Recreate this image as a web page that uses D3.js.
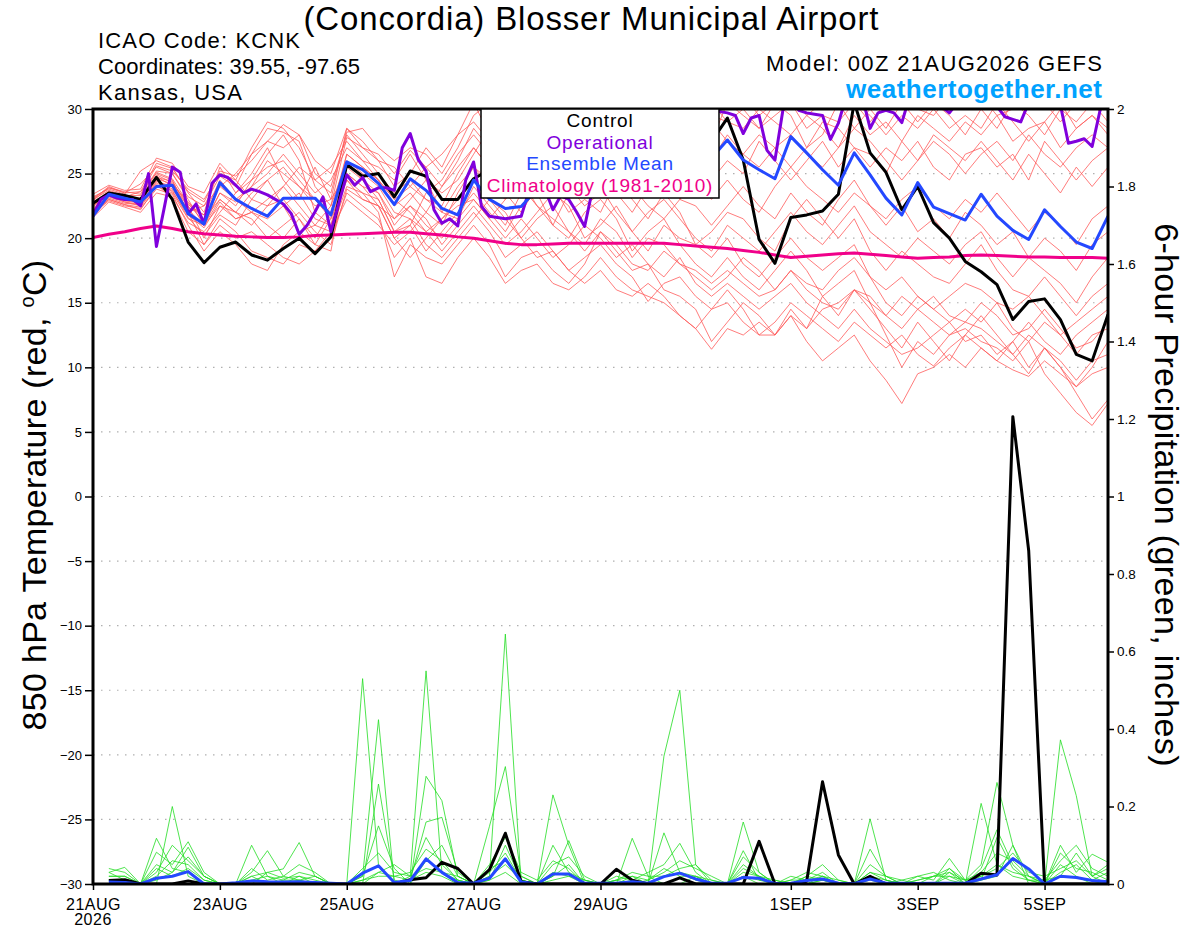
<!DOCTYPE html>
<html>
<head>
<meta charset="utf-8">
<script src="https://cdn.jsdelivr.net/npm/d3@7"></script>
<style>
  body { margin: 0; background: #fff; }
  svg { display: block; font-family: "Liberation Sans", Arial, Helvetica, sans-serif; }
</style>
</head>
<body>
<svg class="chart"></svg>
<script>

// run start and time axis
var runStart = Date.UTC( 2026, 7, 21, 0 );
var xTickHours = [0, 48, 96, 144, 192, 264, 312, 360];
var xTickLabels = ["21AUG", "23AUG", "25AUG", "27AUG", "29AUG", "1SEP", "3SEP", "5SEP"];
var yTempTicks = [-30, -25, -20, -15, -10, -5, 0, 5, 10, 15, 20, 25, 30];
var yPrecipTicks = [0, 0.2, 0.4, 0.6, 0.8, 1, 1.2, 1.4, 1.6, 1.8, 2];

// 6-hourly temperatures, 0h .. 384h
var controlTemp = [22.7,23.5,23.3,23.0,24.7,23.0,19.7,18.1, 19.3,19.7,18.7,18.3,19.2,20.0,18.8,20.1,
	25.7,24.8,25.0,23.2,25.2,24.8,23.0,23.0, 24.6,25.3,26.0,25.5,24.8,25.5,26.5,26.0,
	25.5,26.0,27.0,27.5,28.0,28.5,28.0,27.5, 29.3,26.05,19.9,18.05,21.6,21.8,22.1,23.4,
	30.5,26.6,25.1,22.2,24.0,21.2,20.0,18.2, 17.4,16.4,13.7,15.1,15.3,13.7,11.0,10.5, 14.1];

var meanTemp = [21.7,23.4,23.1,22.8,24.0,24.1,21.9,21.1, 24.3,23.0,22.3,21.7,23.1,23.1,23.1,21.8,
	25.9,25.3,24.25,22.6,24.6,23.7,22.3,21.8, 24.5,23.0,22.3,22.45,23.8,24.5,25.0,24.5,
	25.0,25.5,26.0,25.5,26.0,26.5,26.5,26.2, 27.6,26.05,25.3,24.6,27.86,26.6,25.3,24.1,
	26.6,24.9,23.1,21.8,24.3,22.4,21.9,21.4, 23.4,21.7,20.6,19.9,22.2,20.9,19.7,19.2, 21.7];

var climTemp = [20.05,20.3,20.5,20.75,20.95,20.75,20.5,20.35, 20.25,20.15,20.1,20.05,20.05,20.1,20.2,20.25,
	20.3,20.35,20.4,20.45,20.45,20.35,20.25,20.1, 20.0,19.8,19.6,19.5,19.5,19.55,19.6,19.6,
	19.6,19.6,19.6,19.6,19.6,19.5,19.4,19.3, 19.2,19.05,18.9,18.7,18.5,18.6,18.7,18.8,
	18.85,18.75,18.65,18.55,18.45,18.5,18.55,18.65, 18.7,18.65,18.6,18.55,18.55,18.5,18.5,18.5, 18.45];

// operational run is 3-hourly, 0h .. 384h
var operTemp = [21.8,23.0,23.35,23.1,23.0,23.0,22.5,25.0,19.35,22.4,
	25.5,25.1,21.9,22.65,21.1,24.25,24.9,24.7,24.1,23.5,
	23.8,23.6,23.35,23.0,22.65,21.9,20.3,21.0,22.05,23.2,
	20.5,22.7,24.9,24.1,24.7,23.6,23.9,23.9,23.7,27.0,
	28.1,26.1,25.2,22.2,21.15,21.5,20.95,24.5,25.9,22.45,
	21.7,21.6,21.5,21.6,21.7,23.7,24.5,23.8,22.2,23.3,
	23.0,22.0,20.9,23.8,25.5,26.5,27.0,26.0,27.5,28.5,
	27.5,28.0,29.0,28.0,29.5,28.5,29.0,30.5,30.0,29.8,
	29.7,29.5,28.1,29.3,29.5,26.8,26.05,29.9,31.0,29.9,
	29.7,29.6,29.5,27.65,28.9,31.0,31.5,31.0,28.5,29.7,
	29.9,29.7,28.95,31.0,31.5,31.5,31.0,30.2,29.7,30.5,
	31.0,31.5,31.5,31.0,30.2,29.4,29.2,29.0,30.5,31.0,
	31.5,31.0,30.3,27.35,27.5,27.7,27.1,29.9,31.0];

// ensemble members, 6-hourly
var memberTemps = [
	[22.8,23.6,23.2,23.6,25.0,24.5,22.0,22.5, 24.8,24.0,26.5,28.5,28.2,27.5,24.0,22.5, 27.8,27.0,26.5,25.0,26.8,25.5,24.0,26.0, 28.5,27.0,26.5,28.0,27.0,29.0,28.0,27.5, 29.5,28.0,29.0,27.5,28.5,29.5,28.5,30.5, 29.0,28.5,30.0,29.0,28.0,29.5,28.5,27.0, 29.5,28.0,29.0,27.5,29.5,28.5,27.5,29.0, 28.0,29.5,27.5,28.5,29.0,27.0,28.5,29.5, 28.0],
	[21.6,23.2,22.8,22.5,24.2,23.0,20.5,19.5, 21.5,20.5,19.0,18.5,18.0,19.5,19.0,20.5, 24.0,23.5,22.0,17.0,19.5,18.5,18.0,19.5, 21.0,19.5,17.0,18.5,19.0,17.5,16.5,18.0, 20.5,19.0,17.5,18.0,16.0,15.5,14.5,12.0, 13.5,15.0,14.0,12.5,14.5,13.0,15.5,14.0, 16.0,14.5,13.0,11.5,13.5,12.0,10.5,12.5, 14.0,12.5,11.0,9.5,11.5,10.0,8.0,6.0, 7.5],
	[23.0,24.0,23.5,24.2,25.5,25.0,23.0,21.0, 23.5,22.5,24.5,25.5,26.0,24.5,23.0,21.5, 26.5,25.5,24.5,22.5,23.5,22.0,21.0,23.5, 25.5,24.0,23.0,25.0,26.0,27.5,26.5,28.5, 27.0,25.5,24.0,26.5,27.0,25.0,23.5,24.5, 26.0,25.0,27.5,26.0,24.5,26.0,27.5,25.5, 27.0,26.5,25.0,27.5,26.0,28.0,27.0,26.0, 27.5,26.0,24.5,26.5,25.0,23.5,25.5,24.0, 25.5],
	[22.5,23.4,23.0,22.8,24.8,24.0,22.5,20.0, 22.5,21.5,22.0,21.0,20.0,21.5,19.5,19.0, 25.5,24.5,23.0,20.5,21.0,19.0,20.5,22.0, 23.5,22.0,20.5,22.5,23.5,21.0,20.0,22.0, 23.0,21.5,19.0,20.5,21.5,19.5,18.0,17.0, 18.5,17.0,16.0,17.5,19.0,17.5,15.5,16.5, 17.5,15.0,12.5,10.0,12.0,11.0,12.5,13.0, 12.0,11.5,10.5,12.0,9.5,8.0,6.5,5.5, 7.2],
	[23.2,23.8,23.4,25.2,26.0,25.5,23.5,22.0, 25.5,23.5,25.0,27.0,24.5,23.0,25.5,23.0, 28.5,27.5,26.0,24.0,25.0,27.0,25.5,28.0, 30.5,28.0,27.5,29.5,28.5,26.5,27.0,29.0, 28.0,26.0,27.5,29.0,28.0,30.0,29.0,27.5, 30.5,29.5,28.5,30.5,29.5,27.0,28.0,30.5, 28.5,30.0,28.5,30.5,29.0,30.5,29.5,28.0, 30.0,28.5,30.5,29.5,28.0,30.0,29.0,30.5, 29.0],
	[21.8,23.0,22.6,22.2,24.0,23.5,21.5,21.0, 23.0,22.0,21.0,22.5,23.0,21.5,20.0,22.0, 25.0,24.0,23.5,21.0,22.5,21.5,19.5,21.0, 22.5,21.0,19.5,20.5,22.0,23.5,22.5,20.0, 21.0,22.5,20.5,19.0,21.0,20.0,19.5,18.5, 20.0,18.0,17.0,18.5,20.0,18.5,17.5,18.5, 19.5,17.0,15.0,14.0,15.5,14.5,13.5,14.5, 13.5,15.0,13.0,12.0,13.5,12.5,11.0,12.5, 13.0],
	[22.2,23.3,22.9,22.7,24.5,23.8,22.0,19.5, 21.0,20.0,20.5,19.5,18.5,18.0,19.0,20.0, 23.5,22.5,21.5,18.5,20.0,17.0,16.5,18.5, 20.0,18.5,16.5,17.5,18.0,16.5,16.0,17.0, 18.5,17.0,16.0,15.5,15.0,14.0,13.0,11.4, 13.0,12.5,13.5,12.5,14.0,12.0,10.5,11.5, 12.5,10.5,9.0,7.2,9.5,10.0,11.0,10.0, 11.5,10.5,12.0,10.0,11.5,10.5,9.0,10.5, 11.0],
	[23.0,23.7,23.3,23.3,25.2,25.0,23.2,22.5, 24.0,25.0,26.5,27.5,27.0,28.0,25.0,24.0, 28.0,26.5,25.0,23.5,24.5,23.0,22.5,25.0, 27.0,25.5,24.5,26.5,24.5,23.5,25.5,24.0, 25.5,23.5,22.0,24.0,25.5,23.0,22.5,21.0, 22.5,24.0,22.5,21.5,23.5,22.0,21.0,23.0, 24.5,22.5,21.0,22.5,20.5,21.5,20.0,22.0, 21.0,19.5,20.5,18.5,20.0,19.0,17.5,19.5, 20.5],
	[22.4,23.5,23.1,22.9,24.6,24.2,22.8,21.5, 23.0,22.0,23.5,24.5,22.5,23.5,21.5,21.0, 26.0,25.0,24.0,22.0,21.5,20.5,19.0,20.5, 22.0,20.5,18.5,19.5,20.5,19.0,17.5,18.5, 19.5,18.0,17.0,15.1,16.5,17.0,15.5,14.5, 16.0,14.5,12.5,13.5,15.0,14.0,13.0,12.0, 13.5,12.5,11.5,12.5,11.0,10.1,11.5,12.5, 11.5,10.5,9.8,9.3,10.5,9.5,8.5,9.5, 10.0],
	[21.6,22.8,22.4,22.0,23.5,23.2,21.2,20.5, 22.0,23.5,24.5,26.5,28.0,26.0,22.0,21.0, 24.5,23.0,22.5,20.0,21.0,23.5,24.5,26.5, 28.0,26.5,25.0,24.0,22.5,21.0,23.5,25.5, 24.0,22.0,20.5,22.0,23.0,21.5,20.0,19.0, 21.0,20.0,19.0,20.5,22.0,20.5,19.5,21.0, 22.5,20.5,19.5,18.5,20.0,19.0,18.0,19.5, 20.5,18.5,17.0,18.5,17.5,16.5,15.0,17.0, 18.5],
	[22.9,23.9,23.6,23.4,25.6,25.2,23.8,23.0, 25.0,24.5,23.0,22.5,24.0,25.5,24.5,25.5, 27.5,26.0,25.5,24.5,26.5,24.5,23.5,24.5, 26.5,28.5,27.0,26.0,28.0,27.5,29.5,28.0, 26.5,27.5,28.5,27.0,26.0,27.5,28.0,29.0, 27.5,26.5,28.0,27.0,25.5,27.0,29.0,28.5, 27.0,25.5,27.0,26.0,27.5,25.5,24.5,26.5, 27.0,25.5,26.5,24.5,27.5,26.0,24.5,26.0, 27.0],
	[22.1,23.1,22.7,22.6,24.3,23.6,21.8,20.8, 22.8,21.5,22.0,21.5,22.5,20.5,19.5,21.5, 24.5,23.5,23.0,20.5,21.5,19.5,18.5,20.0, 21.5,23.0,22.0,20.0,21.5,22.5,20.5,19.5, 21.5,20.5,18.5,20.0,19.5,18.0,17.5,16.5, 17.5,16.5,15.5,16.0,17.5,16.0,15.0,14.5, 16.0,15.0,14.0,15.5,14.5,13.5,12.5,13.5, 13.0,12.0,11.0,12.5,11.5,10.0,8.5,10.0, 12.0],
	[23.4,24.1,23.7,23.8,26.2,25.8,24.0,23.5, 25.8,24.5,27.0,29.0,28.5,27.0,24.5,23.5, 28.2,28.5,27.0,26.0,27.0,26.5,25.0,27.0, 29.5,30.5,29.0,28.0,29.5,30.5,29.0,30.5, 29.5,30.5,31.0,29.5,30.5,29.0,30.0,31.0, 30.0,31.0,29.5,30.5,31.0,29.5,30.5,31.0, 30.5,29.0,30.5,31.0,30.0,29.5,31.0,30.0, 31.0,29.5,30.0,31.0,30.5,29.0,30.5,31.0, 30.0],
	[22.6,23.4,22.9,22.8,24.7,24.4,22.4,21.8, 24.5,23.0,22.0,23.0,24.0,22.5,21.0,22.5, 26.0,24.5,23.5,21.5,23.0,24.5,22.0,21.5, 24.0,22.5,21.0,23.5,25.0,24.0,22.0,23.0, 22.0,24.5,23.0,21.5,23.5,22.0,19.5,20.5, 22.0,21.5,20.0,19.0,21.5,23.0,21.5,20.0, 21.5,19.0,17.5,19.0,18.0,17.0,16.5,18.0, 19.5,17.5,16.0,15.5,17.0,15.5,14.0,15.5, 16.5],
	[21.9,22.9,22.5,22.3,23.8,23.4,21.0,19.0, 20.5,19.5,18.0,17.5,19.5,20.5,21.0,20.5, 23.0,22.0,21.0,19.5,20.5,22.0,24.0,25.5, 27.0,25.5,26.5,27.5,26.0,25.0,27.0,26.5, 25.0,26.5,27.5,26.0,24.5,26.0,27.0,26.0, 28.0,26.5,25.5,27.0,28.0,26.5,25.5,27.0, 28.5,27.5,26.0,24.5,26.0,27.5,26.5,25.0, 26.5,27.5,26.0,28.0,26.5,25.5,27.0,28.0, 27.0],
	[22.7,23.6,23.2,23.1,25.1,24.6,22.7,21.2, 23.5,22.8,24.0,25.0,26.5,25.0,23.5,24.5, 27.0,26.0,24.5,23.0,22.0,20.5,21.5,23.0, 24.5,23.0,21.5,20.0,18.5,19.0,17.5,16.5, 17.5,16.0,15.5,16.5,15.5,14.0,13.0,14.5, 15.0,13.5,12.5,12.5,14.0,13.0,14.5,15.0, 16.0,15.5,14.0,13.0,14.5,15.5,14.0,13.5, 15.0,14.0,12.5,13.0,14.5,13.0,11.5,12.0, 13.5],
	[23.1,23.9,23.5,23.6,25.8,25.4,23.6,22.8, 25.2,24.8,26.0,27.5,28.8,28.0,26.0,25.0, 28.5,27.0,26.0,25.5,24.0,25.5,26.5,28.0, 29.0,27.5,28.5,30.0,29.0,28.0,29.5,28.5, 30.5,29.0,28.0,29.5,30.5,29.0,28.5,29.5, 29.0,30.0,28.5,29.5,30.5,28.5,29.5,29.0, 30.5,29.5,28.0,29.5,28.5,30.0,28.5,29.5, 28.5,30.5,29.0,27.5,29.0,30.5,28.5,29.5, 28.5],
	[22.3,23.3,22.8,22.6,24.4,24.0,22.2,21.0, 22.5,22.0,21.5,20.0,21.0,22.0,20.5,19.5, 23.8,23.0,22.5,20.0,18.5,20.0,21.5,22.5, 23.0,21.5,20.0,21.5,20.0,18.5,19.5,21.0, 20.0,18.5,19.5,18.0,17.0,18.5,16.5,15.5, 16.5,15.5,14.5,15.5,16.5,15.0,14.0,13.0, 14.5,13.0,12.0,11.0,11.5,12.5,13.5,12.0, 12.5,11.0,12.0,13.5,12.0,11.0,12.5,13.5, 14.5],
	[22.5,23.5,23.1,23.0,24.9,24.3,22.6,21.8, 24.0,23.0,24.0,26.0,25.0,24.0,23.0,22.0, 26.5,25.5,24.5,23.0,24.0,23.0,22.0,24.0, 25.5,24.5,23.5,22.0,24.0,25.5,24.0,22.5, 23.5,25.0,24.0,22.5,21.5,23.0,24.5,23.0, 24.5,23.0,22.0,24.0,25.5,24.0,23.0,22.0, 23.5,22.5,21.5,23.0,24.0,22.5,21.5,23.0, 22.0,23.5,22.0,20.5,22.0,21.0,19.5,21.5, 22.5],
	[22.0,23.0,22.6,22.4,24.1,23.7,21.6,20.2, 21.8,21.0,23.0,24.5,25.5,24.0,22.5,23.0, 25.0,24.0,22.5,21.5,22.5,21.0,20.0,21.5, 23.0,21.5,23.0,24.5,22.5,21.5,20.5,19.0, 20.5,19.5,18.0,17.5,19.0,18.0,17.0,16.0, 17.0,18.5,17.5,16.0,17.5,16.5,16.0,17.5, 18.5,17.0,16.0,17.0,15.5,14.5,15.5,16.5, 16.0,15.0,14.5,15.5,14.0,12.5,13.5,14.5, 15.5]
];

// 6-hour precipitation (inches), 6h .. 384h
var controlPrecip = [0.009,0.011,0,0,0,0.008,0,0, 0,0,0,0,0,0,0,0,
	0,0,0,0.011,0.016,0.056,0.04,0, 0.037,0.131,0.006,0,0,0,0,0,
	0.038,0.01,0,0,0.016,0,0,0, 0,0.11,0,0,0.007,0.264,0.075,0,
	0.02,0,0,0,0,0,0,0.028, 0.023,1.206,0.86,0,0,0,0,0];

var meanPrecip = [0.005,0.004,0,0.015,0.02,0.032,0,0, 0.003,0.008,0.006,0.005,0.006,0.004,0.002,0,
	0.028,0.047,0.004,0.009,0.065,0.03,0.004,0.002, 0.015,0.065,0.005,0,0.026,0.026,0.002,0.002,
	0.002,0.006,0.002,0.019,0.028,0.013,0.002,0.002, 0.017,0.015,0.001,0.002,0.009,0.013,0.002,0.001,
	0.013,0.002,0.002,0.001,0.002,0.002,0.002,0.013, 0.024,0.066,0.039,0,0.02,0.017,0.009,0.006];

var memberPrecips = [
	[0.04,0.03,0,0,0.2,0.02,0,0, 0,0,0,0,0.02,0,0,0, 0.53,0.05,0,0.01,0.03,0.02,0,0, 0.02,0.645,0,0,0.03,0.02,0,0, 0,0,0,0.33,0.5,0.05,0,0, 0.02,0,0,0,0,0.01,0,0, 0.02,0,0,0,0,0.04,0,0.01, 0.02,0.1,0,0,0.05,0.02,0,0.01],
	[0.03,0.043,0,0.118,0.04,0.03,0,0, 0,0.1,0.02,0,0.01,0,0,0, 0.02,0.424,0,0.02,0.55,0.03,0.01,0, 0.01,0.03,0,0,0.23,0.1,0,0, 0,0.118,0.02,0,0,0.02,0,0, 0.16,0.03,0,0,0,0.02,0,0, 0.168,0.01,0,0,0,0.02,0,0.208, 0.05,0.02,0.01,0,0.372,0.228,0.02,0],
	[0.02,0.02,0,0.082,0.05,0.109,0.03,0, 0,0.03,0.086,0.02,0.01,0,0,0, 0,0.258,0.01,0,0.278,0.215,0.02,0, 0.149,0.303,0.02,0,0.02,0.112,0.01,0, 0.01,0.02,0,0.132,0.03,0.02,0,0, 0.086,0.01,0,0,0,0.01,0,0, 0.09,0.02,0,0,0,0.03,0.01,0.05, 0.262,0.1,0.02,0,0.1,0.03,0.077,0.056],
	[0.03,0.01,0,0.05,0.03,0.095,0.02,0, 0,0.02,0.03,0.039,0.107,0.02,0,0, 0.01,0.03,0.02,0.01,0.16,0.172,0.03,0, 0.02,0.05,0.01,0,0.05,0.07,0.02,0, 0.02,0.01,0.03,0.05,0.105,0.03,0,0, 0.05,0.02,0,0.01,0.03,0.02,0,0, 0.03,0.01,0,0.02,0.01,0.066,0.01,0.03, 0.08,0.06,0.02,0.01,0.06,0.1,0.04,0.02],
	[0.01,0,0,0.02,0.06,0.05,0.01,0, 0,0.01,0.02,0.01,0.03,0.02,0,0, 0.04,0.08,0.03,0.02,0.12,0.05,0.01,0, 0.05,0.12,0.03,0.01,0.06,0.04,0,0, 0,0.02,0.01,0.03,0.06,0.04,0.02,0, 0.03,0.02,0.01,0,0.02,0.05,0.01,0, 0.05,0.02,0.01,0,0.02,0.04,0.01,0.02, 0.04,0.08,0.03,0.02,0.04,0.06,0.02,0.05],
	[0.02,0.02,0,0.03,0.1,0.06,0.02,0, 0,0.04,0.01,0.02,0.05,0.03,0,0, 0.02,0.15,0.04,0,0.06,0.1,0.02,0, 0.03,0.08,0.01,0,0.1,0.03,0.01,0, 0.01,0.03,0.02,0.02,0.04,0.05,0.01,0, 0.07,0.03,0,0.01,0.01,0.03,0,0, 0.02,0.01,0,0.01,0.02,0.03,0,0.04, 0.14,0.05,0.01,0,0.08,0.04,0.03,0.01],
	[0,0.01,0,0.01,0.03,0.07,0.02,0, 0,0,0.03,0.015,0.02,0.01,0,0, 0.01,0.02,0.02,0.03,0.09,0.06,0.01,0, 0.04,0.06,0.02,0,0.02,0.05,0,0, 0,0.01,0,0.02,0.03,0.01,0,0, 0.02,0.01,0.01,0,0.02,0.01,0,0, 0.01,0,0.01,0.02,0.03,0.01,0,0.02, 0.05,0.03,0.02,0,0.03,0.05,0.01,0.03],
	[0.01,0,0,0.04,0.02,0.04,0.01,0, 0,0.02,0,0.01,0.01,0.02,0,0, 0,0.03,0.05,0.02,0.04,0.03,0.02,0, 0.01,0.1,0.01,0,0.01,0.02,0.01,0, 0.01,0,0.01,0.04,0.02,0.02,0.01,0, 0.04,0.02,0,0.02,0.01,0.02,0.01,0, 0.03,0.02,0,0.01,0.02,0.02,0.01,0.01, 0.12,0.04,0.01,0.01,0.02,0.08,0.02,0.04]
];

var width = 1200, height = 927;
var plotLeft = 93, plotRight = 1108, plotTop = 109, plotBottom = 884;

var svg = d3.select( ".chart" )
	.attr( "width", width )
	.attr( "height", height );

var hourMs = 3600 * 1000;
function toDate( h ) { return new Date( runStart + h * hourMs ); }

var x = d3.scaleUtc()
	.domain( [toDate( 0 ), toDate( 384 )] )
	.range( [plotLeft, plotRight] );
var yTemp = d3.scaleLinear().domain( [-30, 30] ).range( [plotBottom, plotTop] );
var yPrecip = d3.scaleLinear().domain( [0, 2] ).range( [plotBottom, plotTop] );

svg.append( "defs" ).append( "clipPath" ).attr( "id", "plotClip" )
	.append( "rect" )
	.attr( "x", plotLeft ).attr( "y", plotTop )
	.attr( "width", plotRight - plotLeft ).attr( "height", plotBottom - plotTop );

// dotted grid at temperature ticks
svg.append( "g" )
	.selectAll( "line" )
	.data( yTempTicks.filter( function(t) { return t > -30 && t < 30; } ) )
	.enter().append( "line" )
	.attr( "x1", plotLeft ).attr( "x2", plotRight )
	.attr( "y1", function(d) { return yTemp(d); } )
	.attr( "y2", function(d) { return yTemp(d); } )
	.attr( "stroke", "#b0b0b0" )
	.attr( "stroke-width", 1.2 )
	.attr( "stroke-dasharray", "1.5,6.5" );

var plot = svg.append( "g" ).attr( "clip-path", "url(#plotClip)" );

function series( values, startHour, step ) {
	return values.map( function(v, i) { return { t: toDate( startHour + i * step ), v: v }; } );
}
function lineFor( yScale ) {
	return d3.line()
		.x( function(d) { return x( d.t ); } )
		.y( function(d) { return yScale( d.v ); } );
}
var tempLine = lineFor( yTemp ), precipLine = lineFor( yPrecip );

// ensemble members
plot.selectAll( ".member" )
	.data( memberTemps )
	.enter().append( "path" )
	.attr( "d", function(d) { return tempLine( series( d, 0, 6 ) ); } )
	.attr( "fill", "none" )
	.attr( "stroke", "#ff5a5a" )
	.attr( "stroke-width", 0.8 );

plot.selectAll( ".pmember" )
	.data( memberPrecips )
	.enter().append( "path" )
	.attr( "d", function(d) { return precipLine( series( d, 6, 6 ) ); } )
	.attr( "fill", "none" )
	.attr( "stroke", "#22dd22" )
	.attr( "stroke-width", 0.8 );

function drawLine( values, start, step, line, color ) {
	plot.append( "path" )
		.attr( "d", line( series( values, start, step ) ) )
		.attr( "fill", "none" )
		.attr( "stroke", color )
		.attr( "stroke-width", 3 )
		.attr( "stroke-linejoin", "round" );
}

drawLine( controlPrecip, 6, 6, precipLine, "#000" );
drawLine( meanPrecip, 6, 6, precipLine, "#2448ff" );
drawLine( climTemp, 0, 6, tempLine, "#f0008a" );
drawLine( controlTemp, 0, 6, tempLine, "#000" );
drawLine( operTemp, 0, 3, tempLine, "#8000dc" );
drawLine( meanTemp, 0, 6, tempLine, "#2448ff" );

// axes
var leftAxis = svg.append( "g" )
	.attr( "transform", "translate(" + plotLeft + ",0)" )
	.call( d3.axisLeft( yTemp ).tickValues( yTempTicks ).tickSize( 8 ).tickPadding( 3 ) );
var rightAxis = svg.append( "g" )
	.attr( "transform", "translate(" + plotRight + ",0)" )
	.call( d3.axisRight( yPrecip ).tickValues( yPrecipTicks ).tickSize( 6 ).tickPadding( 3 )
		.tickFormat( function(d) { return d3.format( "~g" )( d ); } ) );
var bottomAxis = svg.append( "g" )
	.attr( "transform", "translate(0," + plotBottom + ")" )
	.call( d3.axisBottom( x ).tickValues( xTickHours.map( toDate ) ).tickSize( 6 ).tickPadding( 3 )
		.tickFormat( function(d, i) { return xTickLabels[i]; } ) );

[leftAxis, rightAxis, bottomAxis].forEach( function(a) {
	a.select( ".domain" ).remove();
	a.selectAll( "line" ).attr( "stroke", "#000" ).attr( "stroke-width", 1.5 );
	a.selectAll( "text" ).attr( "fill", "#000" ).style( "font-family", "Liberation Sans, Arial, sans-serif" );
} );
leftAxis.selectAll( "text" ).style( "font-size", "13px" );
rightAxis.selectAll( "text" ).style( "font-size", "13.5px" );
bottomAxis.selectAll( "text" ).style( "font-size", "16px" ).style( "letter-spacing", "0.5px" ).attr( "dy", "1.05em" );
bottomAxis.append( "text" )
	.attr( "x", x( toDate( 0 ) ) ).attr( "y", 41 )
	.attr( "text-anchor", "middle" )
	.attr( "fill", "#000" )
	.style( "font-size", "16px" )
	.style( "letter-spacing", "0.5px" )
	.text( "2026" );

// frame
svg.append( "rect" )
	.attr( "x", plotLeft ).attr( "y", plotTop )
	.attr( "width", plotRight - plotLeft ).attr( "height", plotBottom - plotTop )
	.attr( "fill", "none" ).attr( "stroke", "#000" ).attr( "stroke-width", 3 );

// legend
var legendItems = ["Control", "Operational", "Ensemble Mean", "Climatology (1981-2010)"];
var legendColors = ["#000", "#8000dc", "#2448ff", "#f0008a"];
var legend = svg.append( "g" );
legend.append( "rect" )
	.attr( "x", 481 ).attr( "y", plotTop )
	.attr( "width", 238 ).attr( "height", 89 )
	.attr( "fill", "#fff" ).attr( "stroke", "#000" ).attr( "stroke-width", 1.5 );
legend.selectAll( "text" )
	.data( legendItems )
	.enter().append( "text" )
	.attr( "x", 600 )
	.attr( "y", function(d, i) { return 127 + i * 21.6; } )
	.attr( "text-anchor", "middle" )
	.attr( "fill", function(d, i) { return legendColors[i]; } )
	.style( "font-size", "19px" )
	.style( "letter-spacing", "0.8px" )
	.text( function(d) { return d; } );

// titles
function headerText( str, px, py, size, anchor, len ) {
	return svg.append( "text" )
		.attr( "x", px ).attr( "y", py )
		.attr( "text-anchor", anchor )
		.attr( "textLength", len )
		.attr( "lengthAdjust", "spacing" )
		.style( "font-size", size + "px" )
		.text( str );
}
headerText( "(Concordia) Blosser Municipal Airport", 591, 30, 33, "middle", 575 );

var infoLines = ["ICAO Code: KCNK", "Coordinates: 39.55, -97.65", "Kansas, USA"];
var infoLengths = [202, 262, 144];
infoLines.forEach( function(s, i) {
	headerText( s, 98, 48 + i * 26, 22, "start", infoLengths[i] );
} );

headerText( "Model: 00Z 21AUG2026 GEFS", 1102, 71, 22, "end", 336 );
headerText( "weathertogether.net", 1102, 98, 26, "end", 256 )
	.attr( "fill", "#00a2ff" )
	.style( "font-weight", "bold" );

var leftTitle = svg.append( "text" )
	.attr( "transform", "translate(46,495) rotate(-90)" )
	.attr( "text-anchor", "middle" )
	.style( "font-size", "34px" )
	.style( "letter-spacing", "0.3px" );
leftTitle.append( "tspan" ).text( "850 hPa Temperature (red, " );
leftTitle.append( "tspan" ).attr( "dy", "-12" ).style( "font-size", "20px" ).text( "o" );
leftTitle.append( "tspan" ).attr( "dy", "12" ).text( "C)" );

svg.append( "text" )
	.attr( "transform", "translate(1155,495) rotate(90)" )
	.attr( "text-anchor", "middle" )
	.style( "font-size", "34px" )
	.style( "letter-spacing", "0.35px" )
	.text( "6-hour Precipitation (green, inches)" );

</script>
</body>
</html>
